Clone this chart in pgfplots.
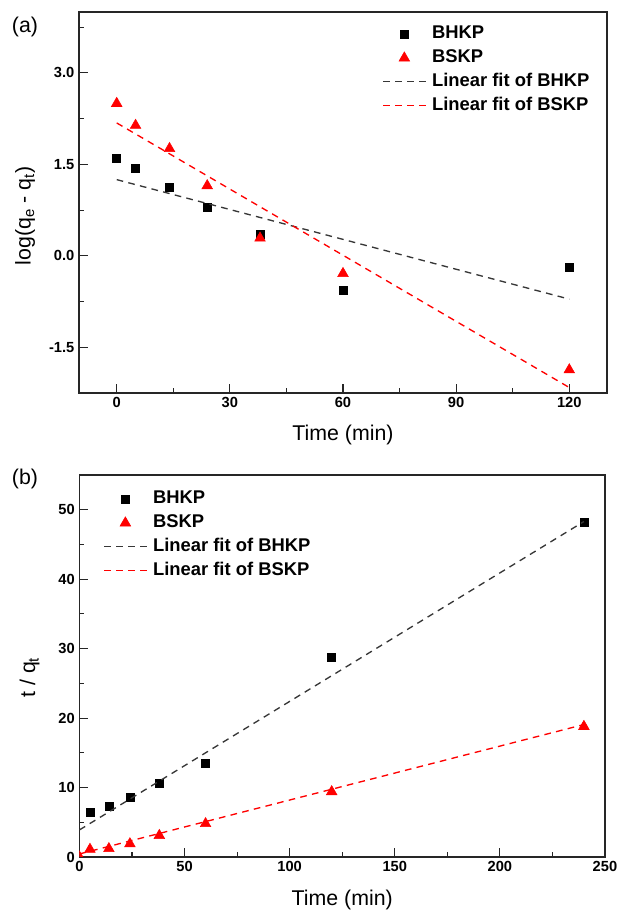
\documentclass[border=0pt]{standalone}
\usepackage{fontspec}
\setmainfont{Liberation Sans}
\usepackage{pgfplots}
\pgfplotsset{compat=1.18}

\definecolor{fitgray}{RGB}{55,55,55}
\definecolor{ptred}{RGB}{255,0,0}

% shared look of both panels
\pgfplotsset{
  kin/.style={
    scale only axis,
    clip marker paths=true,
    axis line style={line width=0.9pt, black!85},
    tick align=inside,
    xtick pos=bottom, ytick pos=left,
    major tick length=6.5pt, minor tick length=3.5pt,
    tick style={line width=0.8pt, black!85},
    tick label style={font=\fontsize{11}{13}\selectfont\bfseries},
    /pgf/number format/assume math mode=true,
    label style={font=\fontsize{16}{18}\selectfont},
    legend style={draw=none, fill=none, anchor=north west, inner sep=0pt,
      font=\fontsize{13.8}{15}\selectfont\bfseries,
      nodes={inner sep=0pt, text height=10pt, text depth=3pt},
      row sep=4.8pt, column sep=0pt,
      /tikz/every odd column/.append style={column sep=3.75pt}},
    legend cell align=left,
    legend image code/.code={\draw[mark repeat=2,mark phase=2,#1]
      plot coordinates {(0pt,0pt) (16pt,0pt) (32.5pt,0pt)};},
  },
  sq/.style={only marks, mark=square*, mark size=3pt, draw=black, fill=black,
    mark options={draw=black, fill=black}},
  tri/.style={only marks, mark=triangle*, mark size=4.6pt, draw=ptred, fill=ptred,
    mark options={draw=ptred, fill=ptred}},
  fitk/.style={mark=none, line width=1pt, draw=fitgray, dash pattern=on 5pt off 4pt},
  fitr/.style={mark=none, line width=1pt, draw=red, dash pattern=on 5pt off 4pt},
  % plain dashed swatch for the legend of the red fit
  redswatch/.style={legend image code/.code={%
    \draw[line width=1pt, draw=red, dash pattern=on 5pt off 4pt] (0pt,0pt) -- (32.5pt,0pt);}},
}

\begin{document}
\begin{tikzpicture}
\useasboundingbox (0,0) rectangle (462.75pt,686.25pt);

% (a) pseudo-first-order
\begin{axis}[kin,
  at={(59.25pt,391.5pt)}, anchor=south west,
  width=396pt, height=285.75pt,
  xmin=-10, xmax=130, ymin=-2.25, ymax=4.0,
  xtick={0,30,60,90,120}, minor xtick={15,45,75,105},
  ytick={-1.5,0,1.5,3}, minor ytick={-0.75,0.75,2.25,3.75},
  yticklabel style={/pgf/number format/fixed, /pgf/number format/fixed zerofill,
    /pgf/number format/precision=1},
  xlabel={Time (min)},
  ylabel={log(q\textsubscript{e} - q\textsubscript{t})},
  xlabel style={at={(axis description cs:0.5,-0.11)}, anchor=center},
  ylabel style={at={(axis description cs:-0.102,0.465)}, anchor=center},
  legend style={at={(axis description cs:0.574,0.965)}},
]
\addplot[sq] coordinates {(0,1.60) (5,1.44) (14,1.12) (24,0.80) (38,0.35) (60,-0.57) (120,-0.19)};
\addlegendentry{BHKP}
\addplot[tri] coordinates {(0,2.50) (5,2.14) (14,1.76) (24,1.15) (38,0.29) (60,-0.29) (120,-1.87)};
\addlegendentry{BSKP}
\addplot[fitk] coordinates {(0,1.25) (120,-0.71)};
\addlegendentry{Linear fit of BHKP}
\addplot[fitr, redswatch] coordinates {(0,2.18) (120,-2.16)};
\addlegendentry{Linear fit of BSKP}
\end{axis}

% (b) pseudo-second-order
\begin{axis}[kin,
  at={(59.6pt,43.5pt)}, anchor=south west,
  width=394.1pt, height=286.5pt,
  xmin=0, xmax=250, ymin=0, ymax=55,
  xtick={0,50,100,150,200,250}, minor xtick={25,75,125,175,225},
  ytick={0,10,20,30,40,50}, minor ytick={5,15,25,35,45},
  xlabel={Time (min)},
  ylabel={t / q\textsubscript{t}},
  xlabel style={at={(axis description cs:0.5,-0.113)}, anchor=center},
  ylabel style={at={(axis description cs:-0.095,0.47)}, anchor=center},
  legend style={at={(axis description cs:0.045,0.96)}},
]
\addplot[sq] coordinates {(5,6.5) (14,7.25) (24,8.6) (38,10.6) (60,13.5) (120,28.8) (240,48.2)};
\addlegendentry{BHKP}
\addplot[tri] coordinates {(0,0) (5,1.1) (14,1.2) (24,1.9) (38,3.1) (60,4.8) (120,9.4) (240,18.8)};
\addlegendentry{BSKP}
\addplot[fitk] coordinates {(0,3.9) (240,48.3)};
\addlegendentry{Linear fit of BHKP}
\addplot[fitr, redswatch] coordinates {(0,0.44) (240,19.07)};
\addlegendentry{Linear fit of BSKP}
\end{axis}

\node[font=\fontsize{16}{18}\selectfont] at (18.75pt,666pt) {(a)};
\node[font=\fontsize{16}{18}\selectfont] at (18.75pt,327pt) {(b)};
\end{tikzpicture}
\end{document}
